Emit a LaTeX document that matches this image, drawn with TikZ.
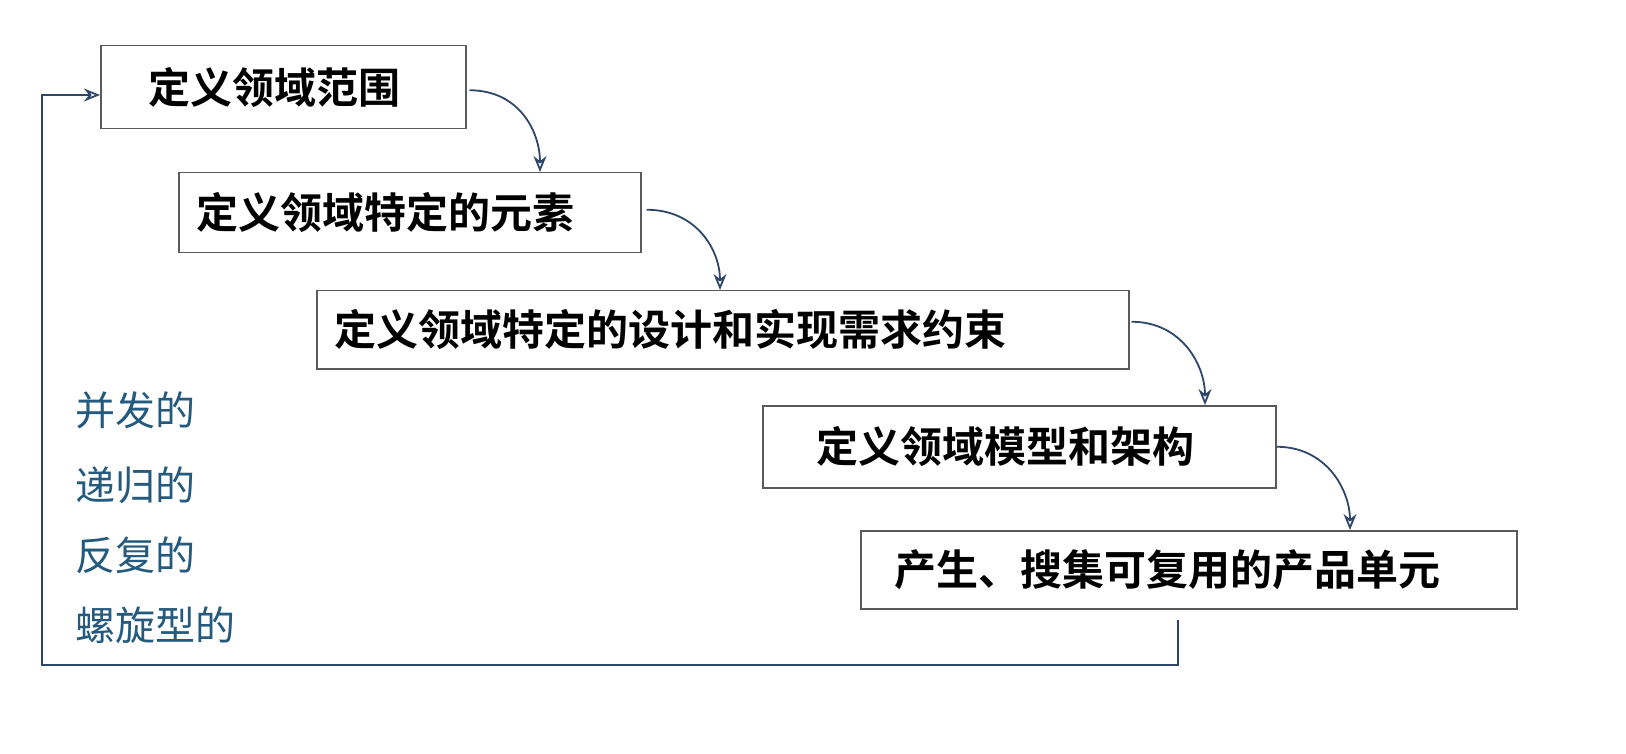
\documentclass[tikz,border=0pt]{standalone}
\usepackage{fontspec}
\newfontfamily\cjk{Noto Sans CJK SC}[BoldFont={* Bold}]
\usetikzlibrary{arrows.meta}
\definecolor{ln}{RGB}{45,70,105}
\definecolor{tx}{RGB}{35,90,125}
\begin{document}
\begin{tikzpicture}[x=1pt,y=-1pt,
  box/.style={draw=black!65,line width=1.5pt,inner ysep=0pt,align=left,font=\cjk\bfseries\fontsize{42}{46}\selectfont,anchor=north west},
  conn/.style={draw=ln,line width=1.8pt,-{Stealth[length=16pt,width=13pt,open]}},
  side/.style={font=\cjk\fontsize{40}{44}\selectfont,text=tx,anchor=west}]
\useasboundingbox (0,0) rectangle (1626,754);
\node[box,inner xsep=48pt,text width=269pt,minimum height=83pt] (b1) at (100,45) {定义领域范围};
\node[box,inner xsep=18pt,text width=426pt,minimum height=80pt] (b2) at (178,172) {定义领域特定的元素};
\node[box,inner xsep=18pt,text width=776pt,minimum height=78pt] (b3) at (316,290) {定义领域特定的设计和实现需求约束};
\node[box,inner xsep=54pt,text width=405pt,minimum height=82pt] (b4) at (762,405) {定义领域模型和架构};
\node[box,inner xsep=34pt,text width=588pt,minimum height=78pt] (b5) at (860,530) {产生、搜集可复用的产品单元};
\draw[conn] (b1.east) ++(3,3) .. controls +(50,0) and +(0,-40) .. (540,172);
\draw[conn] (b2.east) ++(5,-3) .. controls +(50,0) and +(0,-40) .. (720,290);
\draw[conn] (b3.east) ++(2,-8) .. controls +(50,0) and +(0,-40) .. (1205,405);
\draw[conn] (b4.east) ++(0,0) .. controls +(50,0) and +(0,-40) .. (1350,530);
\coordinate (s) at (1178,620);
\coordinate (c1) at (1178,665);
\coordinate (c2) at (42,665);
\coordinate (c3) at (42,95);
\draw[conn] (s) -- (c1) -- (c2) -- (c3) -- (b1.west |- c3);
\node[side] (t1) at (72,410) {并发的};
\node[side] (t2) at (72,485) {递归的};
\node[side] (t3) at (72,555) {反复的};
\node[side] (t4) at (72,625) {螺旋型的};
\end{tikzpicture}
\end{document}
